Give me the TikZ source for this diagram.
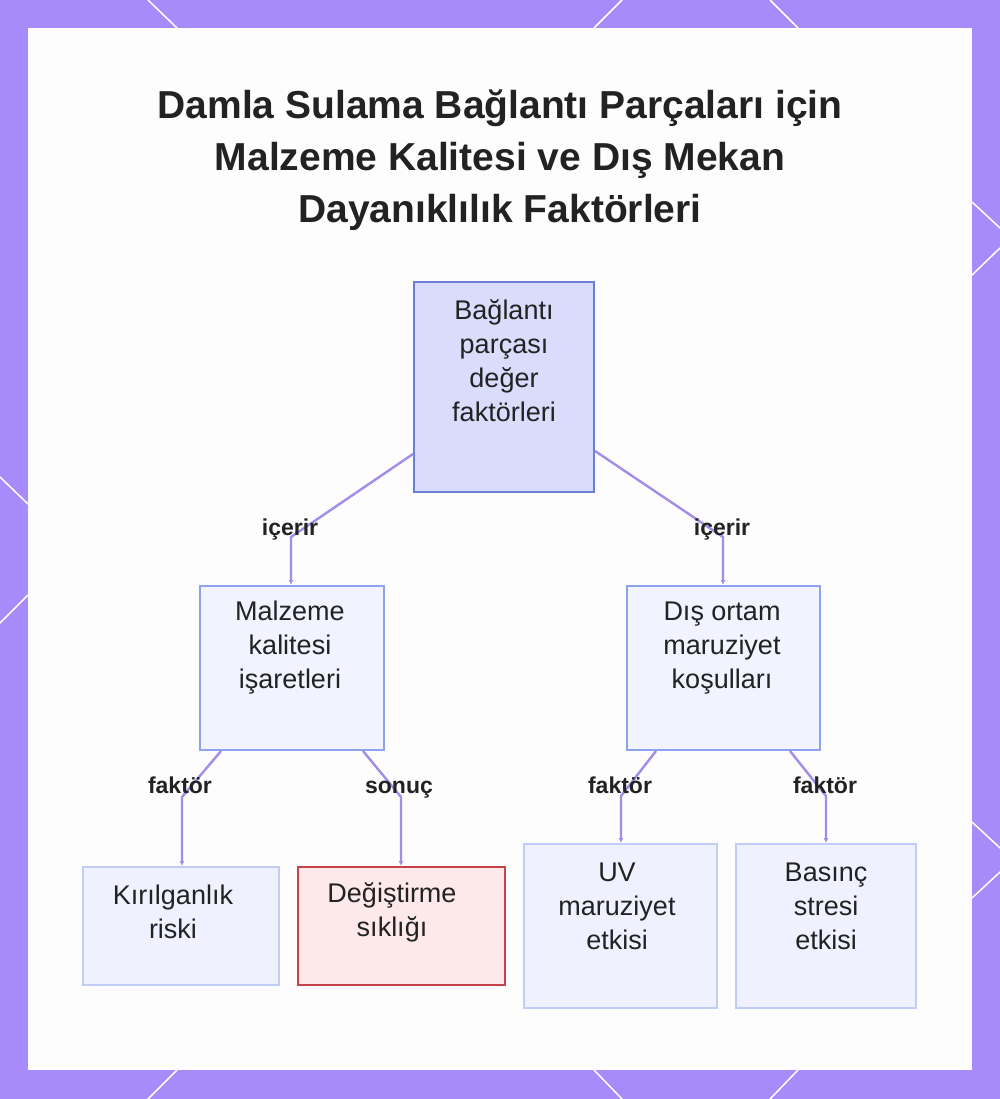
\documentclass[tikz,border=0pt]{standalone}
\usepackage{fontspec}
\setmainfont{Liberation Sans}
\usetikzlibrary{calc,arrows.meta}
\definecolor{frame}{HTML}{A78BFA}
\definecolor{panel}{HTML}{FDFDFD}
\definecolor{txt}{HTML}{222222}
\definecolor{edgec}{HTML}{A48CEA}
\definecolor{rootfill}{HTML}{D9DCFB}
\definecolor{rootdraw}{HTML}{6B7FD7}
\definecolor{midfill}{HTML}{F1F3FE}
\definecolor{middraw}{HTML}{8EA2EE}
\definecolor{lowfill}{HTML}{EFF2FE}
\definecolor{lowdraw}{HTML}{C2CDF7}
\definecolor{redfill}{HTML}{FDE8EA}
\definecolor{reddraw}{HTML}{C8424E}
\tikzset{
  boxnode/.style={draw, line width=2pt, inner sep=0pt},
  rootbox/.style={boxnode, fill=rootfill, draw=rootdraw},
  midbox/.style={boxnode, fill=midfill, draw=middraw},
  lowbox/.style={boxnode, fill=lowfill, draw=lowdraw},
  redbox/.style={boxnode, fill=redfill, draw=reddraw},
  boxtext/.style={text=txt, align=center, inner sep=0pt, font=\fontsize{27}{34}\selectfont},
  edgelabel/.style={text=txt, inner sep=0pt, anchor=base, font=\bfseries\fontsize{23}{26}\selectfont},
  conn/.style={draw=edgec, line width=2.4pt, line join=round, -{Latex[length=5pt,width=5pt]}},
  deco/.style={draw=white, line width=1.5pt}
}
\begin{document}
\begin{tikzpicture}[x=1pt,y=-1pt]
\useasboundingbox (0,0) rectangle (1000,1099);
\fill[frame] (0,0) rectangle (1000,1099);
% decorative lines on frame
\draw[deco] (148,0) -- (177,28);
\draw[deco] (622,0) -- (594,28);
\draw[deco] (770,0) -- (798,28);
\draw[deco] (177,1070) -- (148,1099);
\draw[deco] (594,1070) -- (622,1099);
\draw[deco] (798,1070) -- (770,1099);
\draw[deco] (0,477) -- (28,504);
\draw[deco] (28,595) -- (0,623);
\draw[deco] (972,202) -- (1000,228);
\draw[deco] (1000,248) -- (972,275);
\draw[deco] (972,822) -- (1000,848);
\draw[deco] (1000,872) -- (972,898);
\fill[panel] (28,28) rectangle (972,1070);

% title
\node[text=txt, align=center, inner sep=0pt, font=\bfseries\fontsize{39}{52}\selectfont] (title) at (500,160)
  {Damla Sulama Bağlantı Parçaları için\\Malzeme Kalitesi ve Dış Mekan\\Dayanıklılık Faktörleri};

% boxes
\node[rootbox, minimum width=180pt, minimum height=210pt] (r) at (504,387) {};
\node[midbox, minimum width=184pt, minimum height=164pt] (m) at (292,668) {};
\node[midbox, minimum width=193pt, minimum height=164pt] (o) at (723.5,668) {};
\node[lowbox, minimum width=196pt, minimum height=118pt] (k) at (181,926) {};
\node[redbox, minimum width=207pt, minimum height=118pt] (d) at (401.5,926) {};
\node[lowbox, minimum width=193pt, minimum height=164pt] (uv) at (620.5,926) {};
\node[lowbox, minimum width=180pt, minimum height=164pt] (b) at (826,926) {};

% box texts
\node[boxtext] (rt) at (504,361) {Bağlantı\\parçası\\değer\\faktörleri};
\node[boxtext] (mt) at (290,648) {Malzeme\\kalitesi\\işaretleri};
\node[boxtext] (ot) at (722,648) {Dış ortam\\maruziyet\\koşulları};
\node[boxtext] (kt) at (173,912) {Kırılganlık\\riski};
\node[boxtext] (dt) at (392,912) {Değiştirme\\sıklığı};
\node[boxtext] (uvt) at (617,906) {UV\\maruziyet\\etkisi};
\node[boxtext] (bt) at (826,906) {Basınç\\stresi\\etkisi};

% connectors
\draw[conn] (r.south west) ++(0,-39) -- ($(m.north)+(-1,-48)$) -- ($(m.north)+(-1,0)$);
\draw[conn] (r.south east) ++(0,-42) -- ($(o.north)+(-0.5,-48)$) -- ($(o.north)+(-0.5,0)$);
\draw[conn] (m.south west) ++(22,0) -- ($(k.north)+(1,-69)$) -- ($(k.north)+(1,0)$);
\draw[conn] (m.south east) ++(-22,0) -- ($(d.north)+(-0.5,-69)$) -- ($(d.north)+(-0.5,0)$);
\draw[conn] (o.south west) ++(30,0) -- ($(uv.north)+(0.5,-47)$) -- ($(uv.north)+(0.5,0)$);
\draw[conn] (o.south east) ++(-31,0) -- ($(b.north)+(0,-47)$) -- (b.north);

% connector labels
\node[edgelabel] (l1) at (290,535) {içerir};
\node[edgelabel] (l2) at (722,535) {içerir};
\node[edgelabel] (l3) at (180,793) {faktör};
\node[edgelabel] (l4) at (399,793) {sonuç};
\node[edgelabel] (l5) at (620,793) {faktör};
\node[edgelabel] (l6) at (825,793) {faktör};
\end{tikzpicture}
\end{document}
